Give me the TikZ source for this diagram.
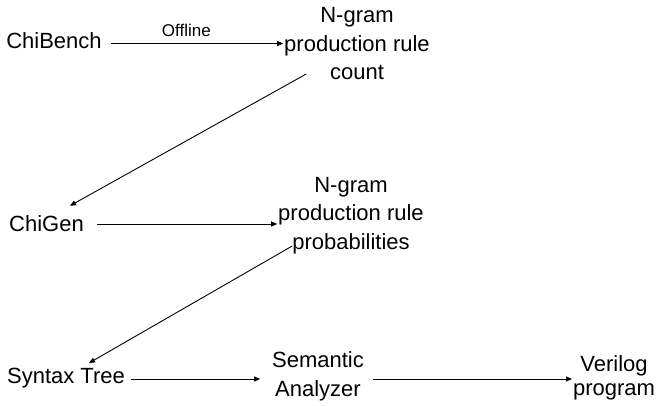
\documentclass[tikz,border=0pt]{standalone}
\usepackage{fontspec}
\setmainfont{Liberation Sans}
\usetikzlibrary{arrows.meta}
\begin{document}
\begin{tikzpicture}[x=1pt,y=-1pt,
  lbl/.style={inner sep=0pt, outer sep=0pt, align=center, anchor=base, font=\fontsize{22}{28.5}\selectfont},
  arr/.style={-{Triangle[length=6pt,width=5pt]}, line width=0.9pt},
  small/.style={font=\fontsize{17}{20}\selectfont, inner sep=0pt, outer sep=0pt, anchor=base}]
\useasboundingbox (0,0) rectangle (658,406);
\node[lbl] (chibench) at (54,49) {ChiBench};
\node[lbl] (ngc) at (357,80) {N-gram\\production rule\\count};
\node[lbl] (chigen) at (46.5,231.7) {ChiGen};
\node[lbl] (ngp) at (351,249) {N-gram\\production rule\\probabilities};
\node[lbl] (syntax) at (66,383) {Syntax Tree};
\node[lbl] (sem) at (318,396) {Semantic\\Analyzer};
\node[lbl, font=\fontsize{22}{23.3}\selectfont] (ver) at (614,395) {Verilog\\program};

\coordinate (a1) at ([shift={(9,-5.5)}]chibench.base east);
\draw[arr, shorten >=1pt] (a1) -- (a1 -| ngc.west) node[small, pos=0.436, yshift=6.8pt] (offline) {Offline};
\draw[arr] ([shift={(22,-6)}]ngc.base west) -- ([shift={(23.5,-10)}]chigen.north);
\coordinate (a3) at ([shift={(13,-7.7)}]chigen.base east);
\draw[arr, shorten >=1pt] (a3) -- (a3 -| ngp.west);
\draw[arr] ([shift={(14,-3)}]ngp.base west) -- ([shift={(23,-4.6)}]syntax.north);
\coordinate (a5) at ([shift={(6.4,-4)}]syntax.base east);
\draw[arr, shorten >=12pt] (a5) -- (a5 -| sem.west);
\draw[arr, shorten <=9pt, shorten >=1pt] (sem.east |- a5) -- (ver.west |- a5);
\end{tikzpicture}
\end{document}
